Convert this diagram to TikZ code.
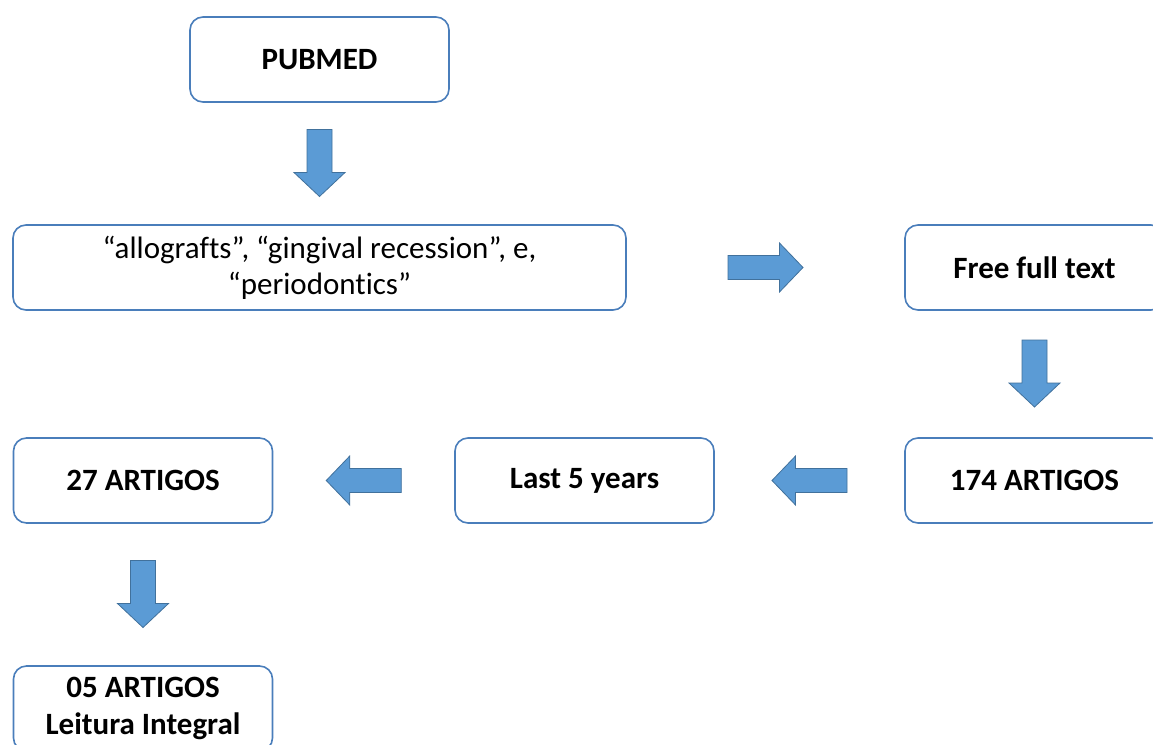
\documentclass[tikz,border=0pt]{standalone}
\usepackage{fontspec}
\setmainfont{Carlito}[Ligatures={NoCommon}]
\usetikzlibrary{calc}
\definecolor{boxline}{RGB}{74,126,187}
\definecolor{arrfill}{RGB}{91,155,213}
\definecolor{arrline}{RGB}{65,113,156}
\tikzset{
  flowbox/.style={draw=boxline, line width=1.6pt, rounded corners=13pt, fill=white,
    minimum width=259pt, minimum height=85pt, inner sep=0pt, align=center,
    font=\fontsize{31}{37}\selectfont\bfseries},
  arrowbody/.style={fill=arrfill, draw=arrline, line width=0.8pt, line join=miter},
  downarr/.pic={\path[arrowbody] (-12.5,-34) -- (12.5,-34) -- (12.5,9) -- (25.5,9) -- (0,33) -- (-25.5,9) -- (-12.5,9) -- cycle;},
  rightarr/.pic={\path[arrowbody] (-37.5,-12) -- (14,-12) -- (14,-24.5) -- (37.5,0) -- (14,24.5) -- (14,12) -- (-37.5,12) -- cycle;}
}
\begin{document}
\begin{tikzpicture}[x=1pt,y=-1pt]
\useasboundingbox (0,0) rectangle (1153,744);
\clip (0,0) rectangle (1153,744);
\fill[white] (0,0) rectangle (1153,744);
\node[flowbox] (pubmed) at (319.5,59.5) {PUBMED};
\node[flowbox, minimum width=613pt, font=\fontsize{31}{36}\selectfont] (kw) at (319.5,267.5)
  {“allografts”, “gingival recession”, e,\\“periodontics”};
\node[flowbox] (free) at (1034.5,267.5) {Free full text};
\node[flowbox] (a174) at (1034.5,480.5) {174 ARTIGOS};
\node[flowbox] (last) at (584.5,480.5) {Last 5 years};
\node[flowbox] (a27) at (143,480.5) {27 ARTIGOS};
\node[flowbox] (a05) at (143,708.5) {\raisebox{-2pt}{05 ARTIGOS}\\\raisebox{-2pt}{Leitura Integral}};
\coordinate (m1) at ($(pubmed.south)!0.5!(kw.north)$);
\coordinate (m2) at ($(kw.east)!0.5!(free.west)$);
\coordinate (m3) at ($(free.south)!0.5!(a174.north)$);
\coordinate (m4) at ($(a174.west)!0.5!(last.east)$);
\coordinate (m5) at ($(last.west)!0.5!(a27.east)$);
\coordinate (m6) at ($(a27.south)!0.5!(a05.north)$);
\pic at (m1) {downarr};
\pic at (m2) {rightarr};
\pic at (m3) {downarr};
\pic[xscale=-1] at (m4) {rightarr};
\pic[xscale=-1] at (m5) {rightarr};
\pic at (m6) {downarr};
\end{tikzpicture}
\end{document}
